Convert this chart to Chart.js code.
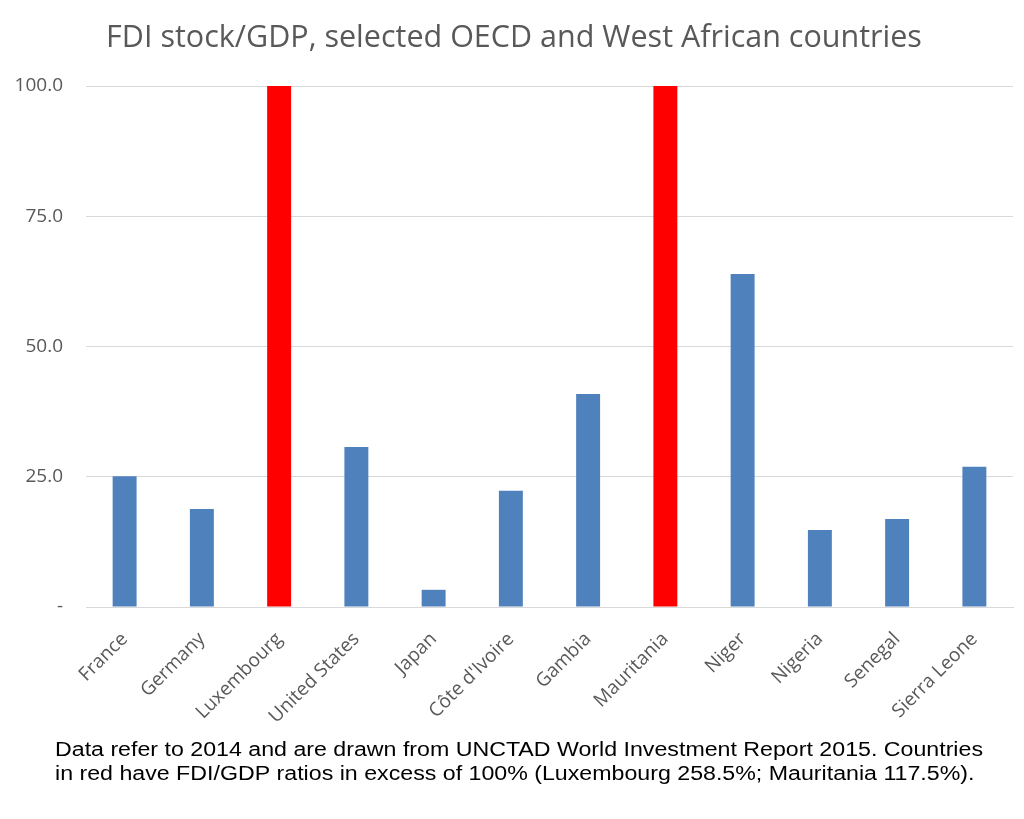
<!DOCTYPE html>
<html>
<head>
<meta charset="utf-8">
<script src="https://cdn.jsdelivr.net/npm/chart.js@4"></script>
<style>
  html, body { margin: 0; padding: 0; background: #fff; }
  #wrap { width: 1024px; height: 819px; }
</style>
</head>
<body>
<div id="wrap"><canvas id="myChart" width="1024" height="819"></canvas></div>
<script>
const ctx = document.getElementById('myChart').getContext('2d');

const countries = ['France', 'Germany', 'Luxembourg', 'United States', 'Japan', "Côte d'Ivoire",
    'Gambia', 'Mauritania', 'Niger', 'Nigeria', 'Senegal', 'Sierra Leone'];
const fdiGdp = [25.1, 18.8, 258.5, 30.7, 3.3, 22.3, 40.9, 117.5, 63.9, 14.8, 16.9, 26.9];
const yTicks = [0, 25, 50, 75, 100];
const titleText = 'FDI stock/GDP, selected OECD and West African countries';
const noteLines = [
    'Data refer to 2014 and are drawn from UNCTAD World Investment Report 2015. Countries',
    'in red have FDI/GDP ratios in excess of 100% (Luxembourg 258.5%; Mauritania 117.5%).'
];

// bars above 100% are shown in red
const barColors = fdiGdp.map(v => v > 100 ? '#ff0000' : '#4f81bd');

// title and footnote drawn straight on the canvas
const textPlugin = {
    id: 'texts',
    afterDraw(chart) {
        const c = chart.ctx;
        c.save();
        c.fillStyle = '#595959';
        c.font = '30.5px "Open Sans"';
        c.textAlign = 'center';
        c.textBaseline = 'alphabetic';
        c.fillText(titleText, 514, 47);

        c.fillStyle = '#000';
        c.font = '20px "Liberation Sans"';
        c.textAlign = 'left';
        const sx = 928 / c.measureText(noteLines[0]).width;
        c.translate(55, 0);
        c.scale(sx, 1);
        c.fillText(noteLines[0], 0, 756);
        c.fillText(noteLines[1], 0, 780);
        c.restore();
    }
};

const config = {
    type: 'bar',
    data: {
        labels: countries,
        datasets: [{
            data: fdiGdp,
            backgroundColor: barColors,
            barPercentage: 0.31,
            categoryPercentage: 1.0,
        }],
    },
    options: {
        responsive: false,
        animation: false,
        layout: { padding: { top: 86, left: 0, right: 11, bottom: 0 } },
        plugins: {
            legend: { display: false },
            title: { display: false },
            tooltip: { enabled: false },
        },
        scales: {
            x: {
                grid: { display: false },
                border: { color: '#d9d9d9', width: 1 },
                ticks: {
                    color: '#595959',
                    font: { family: 'Open Sans', size: 19 },
                    minRotation: 45,
                    maxRotation: 45,
                    padding: 13,
                    autoSkip: false,
                },
                afterFit: (scale) => { scale.height = 212; },
            },
            y: {
                min: 0,
                max: 100,
                afterBuildTicks: (scale) => { scale.ticks = yTicks.map(v => ({ value: v })); },
                grid: { color: '#d9d9d9', drawTicks: false },
                border: { display: false },
                ticks: {
                    color: '#595959',
                    font: { family: 'Open Sans', size: 19 },
                    padding: 23,
                    callback: function(value) {
                        return value === 0 ? '-' : value.toFixed(1);
                    },
                },
                afterFit: (scale) => { scale.width = 86; },
            },
        },
    },
    plugins: [textPlugin],
};

const myChart = new Chart(ctx, config);
</script>
</body>
</html>
